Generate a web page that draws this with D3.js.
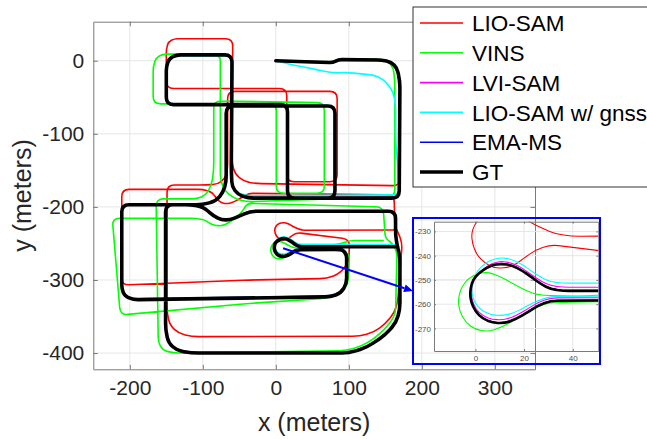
<!DOCTYPE html>
<html>
<head>
<meta charset="utf-8">
<script src="https://cdn.jsdelivr.net/npm/d3@7"></script>
<style>
  body { margin: 0; background: #fff; }
  svg { display: block; font-family: "Liberation Sans", Arial, sans-serif; }
</style>
</head>
<body>
<svg id="chart" width="647" height="439"></svg>
<script>
// Legend labels and colours, in plotting order (GT is drawn last, on top)
const seriesNames = ["LIO-SAM", "VINS", "LVI-SAM", "LIO-SAM w/ gnss", "EMA-MS", "GT"];
const seriesColors = ["#ff0000", "#00ff00", "#ff00ff", "#00ffff", "#0000ff", "#000000"];

// Tick values
const xTicks = [-200, -100, 0, 100, 200, 300];
const yTicks = [0, -100, -200, -300, -400];
const insetXTicks = [0, 20, 40];
const insetYTicks = [-230, -240, -250, -260, -270];

// Trajectories, [x, y] in meters
const lioSamPath = [
  [0,0],[40,-1.5],[78,-2.5],[86,1.5],[145,1],[158,-2],[166,-10],[170,-28],
  [170,-171],
  [-28,-168],[-44,-165],[-56,-155],[-60,-140],
  [-59,30],
  [-139,30],[-147,26],[-150,16],
  [-150,-38],
  [15,-38],
  [15,-165.5],
  [84,-165.5],
  [84,-42],
  [-66,-42],
  [-66,-148],[-70,-162],[-80,-169],[-96,-170],
  [-149,-170],
  [-149,-345],[-145,-362],[-133,-373],[-115,-377.5],
  [115,-377],[135,-371],[150,-360],[162,-345],[167,-330],
  [173,-250],[168,-236],[163,-226],
  [162,-183.5],
  [-37,-181.4],[-47,-187],[-56,-193],[-66,-195.5],[-74,-195],[-81,-189],[-87,-180],[-100,-176],
  [-211,-176],
  [-211,-307],
  [-35,-300],[70,-298],[88,-291],[100,-275],
  [101,-244],
  [31,-235.5],[25,-237.5],[20,-241],[14.8,-244.8],[8,-245.2],[3.8,-243.1],[0.5,-239.5],[-1.2,-235],[-1.6,-231],[-0.5,-227.5],[2.5,-223.5],[8,-221.5],[14,-222],[19,-224],[23,-226.5],[28,-229],[33,-231],[39.5,-232],
  [162,-231.6]
];

const vinsPath = [
  [0,0],[40,-1],[78,-1.5],[86,2.5],[140,2.5],[154,-1],[161,-10],[163,-28],
  [163,-186],
  [-40,-193],[-58,-188],[-70,-178],[-76,-163],
  [-76,9],
  [-155,9],[-164,4],[-168,-8],
  [-168,-59],
  [0.7,-59],
  [0.7,-181.4],
  [66.4,-181.4],
  [66.4,-57.5],
  [-85,-55],
  [-85,-150],[-88,-170],[-96,-184],[-108,-189],
  [-164,-189],
  [-161,-385],[-155,-396],[-140,-400],
  [97,-396.7],[116,-391],[135,-380],[148,-368],[158,-357],[164,-345],
  [166,-262],[160,-250],[150,-243],
  [147,-200],
  [-39,-195],[-46,-206.6],[-55.5,-215.6],[-65,-222],[-73.7,-226.1],[-87.4,-224.8],[-96.6,-218],[-110,-215.6],
  [-224,-215.6],
  [-213,-348],
  [-35,-332],[70,-325],[90,-318],[99,-305],
  [101,-268],[95,-260],[85,-259],
  [50,-258.9],[30,-259.5],[25.8,-261],[21,-263.5],[16.2,-266.5],[11,-269.5],[5.2,-271.3],[0,-270.5],[-4,-267.5],[-6.5,-263],[-7.1,-258.2],[-6,-253.5],[-3,-249.5],[1,-247.3],[5.2,-246.8],[10,-248.5],[16.2,-252],[21,-254.5],[25.8,-256.2],[35,-256.6],[50,-256.6],
  [90,-250],[102,-246],
  [147,-246]
];

const lviSamPath = [
  [0,0],[40,-1],[78,-2],[86,2],[145,1.5],[158,-1.5],[166,-9.5],[170,-28],
  [169.5,-187],
  [-38,-187],[-52,-182],[-60,-171],[-61,-150],
  [-60,8.5],
  [-136,8.5],[-146,3.5],[-150,-7.5],
  [-150,-59.5],
  [16,-59.5],[16,-187.5],[81,-187.5],[81,-61.5],[-68,-61.5],
  [-68,-165],[-72,-179.5],[-82,-191.5],[-100,-196.5],
  [-151,-196.5],
  [-151,-368],[-147,-385.5],[-136,-395.5],[-116,-399.5],
  [100,-399.5],[125,-391.5],[150,-374.5],[165,-357.5],[170,-340],
  [170,-268],[166,-251.5],[164,-237.5],[164,-205.5],
  [-35,-205.5],[-51,-212.5],[-62,-217],[-74,-217.5],[-86,-211.5],[-96,-202.5],[-104,-198.5],[-117,-196.5],
  [-211,-196.5],
  [-211,-312],[-207,-321.5],[-195,-326],
  [75,-322],[89,-317],[97,-304],
  [97,-265],[92,-258],[84,-257.2],
  [31,-257.4],[26,-259.2],[22,-261.6],[17,-264.6],[12,-266.5],[7,-266.3],[3,-264.8],[0.2,-262],[-1.4,-258.2],[-1.6,-254.8],[-1,-251],[0.6,-248],[3.5,-245.2],[7,-243.1],[10.7,-242.3],[15,-243],[19,-245],[23,-247.8],[27,-250.6],[31,-252.4],[36,-253],
  [165,-253]
];

const lioGnssPath = [
  [0,0],[25,-6],[55,-12],[79,-17],[97.5,-16],[134,-19.6],[146,-25],[155,-34],[161,-44],[164,-60],
  [164,-110],[167,-140],[168,-170],
  [168,-183.5],
  [-40,-185],[-54,-180],[-61,-170],[-62,-150],
  [-61,7],
  [-136,7],[-146,2],[-150,-9],
  [-150,-59],
  [16,-60],[16,-187],[81,-187],[81,-61],[-67,-61],
  [-67,-165],[-71,-180],[-80,-191],[-99,-196],
  [-151,-196],
  [-151,-368],[-147,-386],[-136,-396],[-116,-399],
  [100,-399],[125,-391],[150,-374],[165,-357],[170,-339],
  [170,-268],[166,-251],[164,-237],[164,-205],
  [-35,-205],[-51,-212],[-62,-216.5],[-74,-217],[-86,-211],[-96,-202],[-104,-198],[-117,-196],
  [-211,-196],
  [-211,-312],[-207,-321],[-195,-326],
  [75,-322],[89,-317],[97,-304],
  [97,-262],[92,-256.6],[84,-256.6],
  [31,-256.8],[26,-258.4],[21,-260.8],[16,-263.6],[11,-264.8],[6,-264.3],[2,-262.2],[-0.5,-259],[-1.6,-255],[-1.2,-250.5],[0.6,-246.5],[3.5,-243.5],[7,-241.5],[10.7,-240.8],[15,-241.5],[19,-243.5],[23,-246.3],[27,-249],[31,-250.8],[36,-251.3],
  [165,-251.5]
];

const emaMsPath = [
  [0,0],[40,-1.3],[78,-2.3],[86,1.7],[145,1.2],[158,-1.8],[166,-9.8],[170,-28],
  [169.2,-187.8],
  [-38,-187.8],[-52,-182.8],[-60,-171.8],[-61,-150],
  [-60,8.2],
  [-136,8.2],[-146,3.2],[-150,-7.8],
  [-150,-59.8],
  [16,-59.8],[16,-187.8],[81,-187.8],[81,-61.8],[-68,-61.8],
  [-68,-165],[-72,-179.8],[-82,-191.8],[-100,-196.8],
  [-151,-196.8],
  [-151,-368],[-147,-385.8],[-136,-395.8],[-116,-399.8],
  [100,-399.8],[125,-391.8],[150,-374.8],[165,-357.8],[170,-340],
  [170,-268],[166,-251.8],[164,-237.8],[164,-205.8],
  [-35,-205.8],[-51,-212.8],[-62,-217.3],[-74,-217.8],[-86,-211.8],[-96,-202.8],[-104,-198.8],[-117,-196.8],
  [-211,-196.8],
  [-211,-312],[-207,-321.8],[-195,-326.8],
  [75,-322.8],[89,-317.8],[97,-304.8],
  [97,-266],[92,-258.8],[84,-258.1],
  [31,-258.4],[26,-260.2],[22,-262.8],[17,-265.8],[12,-267.7],[7,-267.4],[3,-265.8],[0,-262.8],[-1.7,-258.9],[-2.1,-255.4],[-1.5,-251.4],[0.1,-248.4],[3.1,-245.9],[6.6,-243.9],[10.7,-243.1],[15,-243.8],[19,-245.8],[23,-248.6],[27,-251.6],[31,-253.6],[36,-254.3],
  [165,-254.3]
];

const gtPath = [
  [0,0],[40,-1.5],[78,-2.5],[86,1.5],[145,1],[158,-2],[166,-10],[170,-28],
  [169,-188],
  [-38,-188],[-52,-183],[-60,-172],[-61,-150],
  [-60,8],
  [-136,8],[-146,3],[-150,-8],
  [-150,-60],
  [16,-60],
  [16,-188],
  [81,-188],
  [81,-62],
  [-68,-62],
  [-68,-165],[-72,-180],[-82,-192],[-100,-197],
  [-151,-197],
  [-151,-368],[-147,-386],[-136,-396],[-116,-400],
  [100,-400],[125,-392],[150,-375],[165,-358],[170,-340],
  [170,-268],[166,-252],[164,-238],
  [164,-206],
  [-35,-206],[-51,-213],[-62,-217.5],[-74,-218],[-86,-212],[-96,-203],[-104,-199],[-117,-197],
  [-211,-197],
  [-211,-312],[-207,-322],[-195,-327],
  [75,-323],[89,-318],[97,-305],
  [97,-266],[92,-259],[84,-258.3],
  [31,-258.6],[26,-260.4],[22,-263],[17,-266],[12,-267.9],[7,-267.6],[3,-266],[0,-263],[-1.8,-259],[-2.2,-255.5],[-1.6,-251.5],[0,-248.5],[3,-246],[6.5,-244],[10.7,-243.3],[15,-244],[19,-246],[23,-248.8],[27,-251.8],[31,-253.8],[36,-254.5],
  [165,-254.5]
];

const seriesPaths = [lioSamPath, vinsPath, lviSamPath, lioGnssPath, emaMsPath, gtPath];

// ---------------------------------------------------------------------------
const svg = d3.select("#chart");
const axisColor = "#7a7a7a";
const gridColor = "#e6e6e6";
const textColor = "#262626";

const plot = { left: 93.3, right: 535, top: 21.7, bottom: 369.3 };
const x = d3.scaleLinear().domain([-250, 355]).range([plot.left, plot.right]);
const y = d3.scaleLinear().domain([-422.2, 53.4]).range([plot.bottom, plot.top]);

const inset = { left: 434, right: 598.3, top: 221.7, bottom: 351 };
const ix = d3.scaleLinear().domain([-17, 50.5]).range([inset.left, inset.right]);
const iy = d3.scaleLinear().domain([-279.3, -226]).range([inset.bottom, inset.top]);

// Polyline through the points with corners rounded off by a radius in meters
function roundedPath(pts, sx, sy, radiusM) {
  const k = Math.abs(sx(1) - sx(0));
  const R = radiusM * k;
  const P = pts.map(d => [sx(d[0]), sy(d[1])]);
  const p = d3.path();
  p.moveTo(P[0][0], P[0][1]);
  for (let i = 1; i < P.length - 1; i++) {
    const a = P[i - 1], b = P[i], c = P[i + 1];
    const d1 = Math.hypot(b[0] - a[0], b[1] - a[1]);
    const d2 = Math.hypot(c[0] - b[0], c[1] - b[1]);
    if (d1 === 0 || d2 === 0) { p.lineTo(b[0], b[1]); continue; }
    const r = Math.min(R, d1 / 2, d2 / 2);
    p.lineTo(b[0] + (a[0] - b[0]) * r / d1, b[1] + (a[1] - b[1]) * r / d1);
    p.quadraticCurveTo(b[0], b[1], b[0] + (c[0] - b[0]) * r / d2, b[1] + (c[1] - b[1]) * r / d2);
  }
  const last = P[P.length - 1];
  p.lineTo(last[0], last[1]);
  return p.toString();
}

const defs = svg.append("defs");
defs.append("clipPath").attr("id", "clipMain").append("rect")
  .attr("x", plot.left).attr("y", plot.top)
  .attr("width", plot.right - plot.left).attr("height", plot.bottom - plot.top);
defs.append("clipPath").attr("id", "clipInset").append("rect")
  .attr("x", inset.left).attr("y", inset.top)
  .attr("width", inset.right - inset.left).attr("height", inset.bottom - inset.top);

// ---- main axes: grid
const grid = svg.append("g");
grid.selectAll(".gx").data(xTicks).join("line")
  .attr("x1", d => x(d)).attr("x2", d => x(d))
  .attr("y1", plot.top).attr("y2", plot.bottom)
  .attr("stroke", gridColor).attr("stroke-width", 1);
grid.selectAll(".gy").data(yTicks).join("line")
  .attr("x1", plot.left).attr("x2", plot.right)
  .attr("y1", d => y(d)).attr("y2", d => y(d))
  .attr("stroke", gridColor).attr("stroke-width", 1);

// ---- main trajectories
const mainTraj = svg.append("g").attr("clip-path", "url(#clipMain)");
seriesPaths.forEach((pts, i) => {
  mainTraj.append("path")
    .attr("d", roundedPath(pts, x, y, 10))
    .attr("fill", "none")
    .attr("stroke", seriesColors[i])
    .attr("stroke-width", i === 5 ? 3.6 : 1.6)
    .attr("stroke-linejoin", "round")
    .attr("stroke-linecap", "round");
});

// ---- main axes: box, ticks, labels
const tickLen = 4.5;
const axB = svg.append("g").attr("transform", `translate(0,${plot.bottom})`)
  .call(d3.axisBottom(x).tickValues(xTicks).tickSizeInner(-tickLen).tickSizeOuter(0).tickPadding(11).tickFormat(d3.format("d")));
const axL = svg.append("g").attr("transform", `translate(${plot.left},0)`)
  .call(d3.axisLeft(y).tickValues(yTicks).tickSizeInner(-tickLen).tickSizeOuter(0).tickPadding(9).tickFormat(d3.format("d")));
const axT = svg.append("g").attr("transform", `translate(0,${plot.top})`)
  .call(d3.axisTop(x).tickValues(xTicks).tickSizeInner(-tickLen).tickSizeOuter(0).tickFormat(""));
const axR = svg.append("g").attr("transform", `translate(${plot.right},0)`)
  .call(d3.axisRight(y).tickValues(yTicks).tickSizeInner(-tickLen).tickSizeOuter(0).tickFormat(""));
[axB, axL, axT, axR].forEach(g => {
  g.select(".domain").attr("stroke", axisColor);
  g.selectAll(".tick line").attr("stroke", axisColor);
  g.selectAll(".tick text").attr("fill", textColor).attr("font-size", 21)
    .attr("font-family", '"Liberation Sans", Arial, sans-serif');
});
axB.selectAll(".tick text").text(d => d < 0 ? "-" + Math.abs(d) : d);
axL.selectAll(".tick text").text(d => d < 0 ? "-" + Math.abs(d) : d);

svg.append("text")
  .attr("x", (plot.left + plot.right) / 2).attr("y", 431)
  .attr("text-anchor", "middle").attr("font-size", 25).attr("fill", textColor)
  .text("x (meters)");
svg.append("text")
  .attr("transform", `translate(31,${(plot.top + plot.bottom) / 2}) rotate(-90)`)
  .attr("text-anchor", "middle").attr("font-size", 25).attr("fill", textColor)
  .text("y (meters)");

// ---- inset (zoom on the turnaround loop)
const ig = svg.append("g");
ig.selectAll(".igx").data(insetXTicks).join("line")
  .attr("x1", d => ix(d)).attr("x2", d => ix(d))
  .attr("y1", inset.top).attr("y2", inset.bottom)
  .attr("stroke", gridColor);
ig.selectAll(".igy").data(insetYTicks).join("line")
  .attr("x1", inset.left).attr("x2", inset.right)
  .attr("y1", d => iy(d)).attr("y2", d => iy(d))
  .attr("stroke", gridColor);

const insetTraj = ig.append("g").attr("clip-path", "url(#clipInset)");
seriesPaths.forEach((pts, i) => {
  insetTraj.append("path")
    .attr("d", roundedPath(pts, ix, iy, 10))
    .attr("fill", "none")
    .attr("stroke", seriesColors[i])
    .attr("stroke-width", i === 5 ? 2.6 : 1.1)
    .attr("stroke-linejoin", "round");
});

const iaB = ig.append("g").attr("transform", `translate(0,${inset.bottom})`)
  .call(d3.axisBottom(ix).tickValues(insetXTicks).tickSizeInner(-2).tickSizeOuter(0).tickPadding(4));
const iaL = ig.append("g").attr("transform", `translate(${inset.left},0)`)
  .call(d3.axisLeft(iy).tickValues(insetYTicks).tickSizeInner(-2).tickSizeOuter(0).tickPadding(3));
const iaT = ig.append("g").attr("transform", `translate(0,${inset.top})`)
  .call(d3.axisTop(ix).tickValues(insetXTicks).tickSizeInner(-2).tickSizeOuter(0).tickFormat(""));
const iaR = ig.append("g").attr("transform", `translate(${inset.right},0)`)
  .call(d3.axisRight(iy).tickValues(insetYTicks).tickSizeInner(-2).tickSizeOuter(0).tickFormat(""));
[iaB, iaL, iaT, iaR].forEach(g => {
  g.select(".domain").attr("stroke", axisColor);
  g.selectAll(".tick line").attr("stroke", axisColor);
  g.selectAll(".tick text").attr("fill", "#4d4d4d").attr("font-size", 8)
    .attr("font-family", '"Liberation Sans", Arial, sans-serif');
});
iaL.selectAll(".tick text").text(d => "-" + Math.abs(d));

const insetBox = { x: 413, y: 218, w: 187, h: 146 };
svg.append("rect")
  .attr("x", insetBox.x).attr("y", insetBox.y)
  .attr("width", insetBox.w).attr("height", insetBox.h)
  .attr("fill", "none").attr("stroke", "#0000ff").attr("stroke-width", 2);

// ---- arrow from the loop to the inset
const a0 = [x(10), y(-256.6)];
const a1 = [insetBox.x, insetBox.y + insetBox.h / 2];
const ang = Math.atan2(a1[1] - a0[1], a1[0] - a0[0]);
const headL = 9, headW = 4;
const base = [a1[0] - headL * Math.cos(ang), a1[1] - headL * Math.sin(ang)];
svg.append("line")
  .attr("x1", a0[0]).attr("y1", a0[1]).attr("x2", base[0]).attr("y2", base[1])
  .attr("stroke", "#0000ff").attr("stroke-width", 2);
svg.append("path")
  .attr("d", d3.line()([
    a1,
    [base[0] + headW * Math.sin(ang), base[1] - headW * Math.cos(ang)],
    [base[0] - headW * Math.sin(ang), base[1] + headW * Math.cos(ang)]
  ]) + "Z")
  .attr("fill", "#0000ff");

// ---- legend
const leg = svg.append("g");
leg.append("rect")
  .attr("x", 413).attr("y", 7).attr("width", 250).attr("height", 180)
  .attr("fill", "#fff").attr("stroke", "#333").attr("stroke-width", 1);
seriesNames.forEach((name, i) => {
  const cy = 23 + i * 29.8;
  leg.append("line")
    .attr("x1", 420).attr("x2", 463).attr("y1", cy).attr("y2", cy)
    .attr("stroke", seriesColors[i]).attr("stroke-width", i === 5 ? 3.6 : 1.6);
  leg.append("text")
    .attr("x", 472).attr("y", cy).attr("dy", "0.36em")
    .attr("font-size", 22.5).attr("fill", "#000")
    .text(name);
});
</script>
</body>
</html>
